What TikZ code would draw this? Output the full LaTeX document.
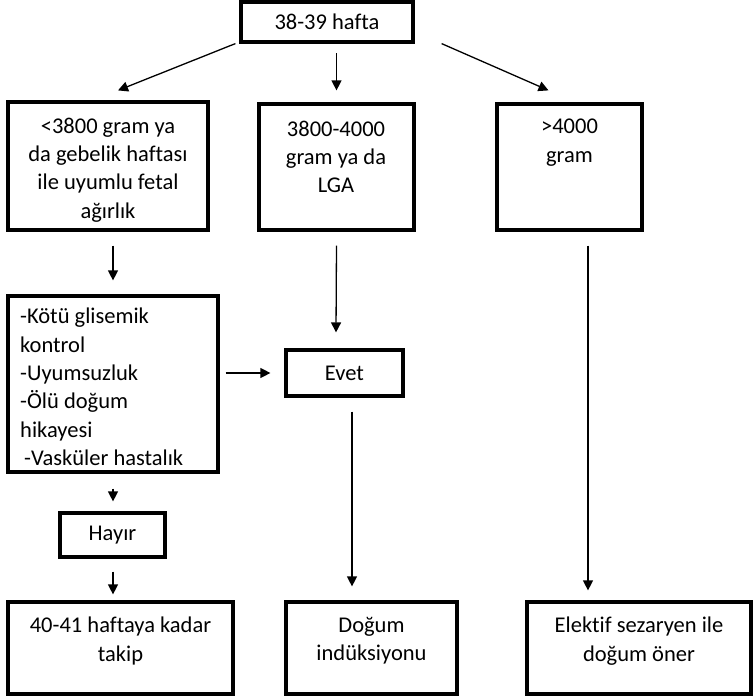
\documentclass[tikz,border=0pt]{standalone}
\usepackage{fontspec}
\setmainfont[Ligatures=NoCommon]{Carlito}
\usetikzlibrary{arrows.meta,calc}
\begin{document}
\begin{tikzpicture}[x=1pt,y=-1pt,
  box/.style={draw,line width=3.2pt,inner sep=0pt},
  txt/.style={font=\fontsize{22.5}{28.3}\selectfont,align=center,inner sep=0pt},
  arr/.style={-{Triangle[length=10pt,width=10pt]},line width=1.3pt}]
\useasboundingbox (0,0) rectangle (753,700);
% boxes
\node[box,minimum width=172,minimum height=40] (top) at (327,22) {};
\node[box,minimum width=200,minimum height=128] (b1) at (108,166) {};
\node[box,minimum width=155,minimum height=126] (b2) at (336.5,167) {};
\node[box,minimum width=145,minimum height=126] (b3) at (569.5,167) {};
\node[box,minimum width=210,minimum height=176] (crit) at (113,384) {};
\node[box,minimum width=117,minimum height=46] (evet) at (344.5,373) {};
\node[box,minimum width=105,minimum height=44] (hayir) at (112.5,535) {};
\node[box,minimum width=225,minimum height=92] (d1) at (120.5,648) {};
\node[box,minimum width=171,minimum height=92] (d2) at (371.5,648) {};
\node[box,minimum width=224,minimum height=92] (d3) at (639,648) {};
% texts
\node[txt] (ttop) at (top.center) {38-39 hafta};
\node[txt] (tb1) at (108,170) {<3800 gram ya\\da gebelik haftası\\ile uyumlu fetal\\ağırlık};
\node[txt] (tb2) at (336,157) {3800-4000\\gram ya da\\LGA};
\node[txt] (tb3) at (569.5,142.5) {>4000\\gram};
\node[txt,align=left,anchor=west] (tcrit) at (20,387) {-Kötü glisemik\\kontrol\\-Uyumsuzluk\\-Ölü doğum\\hikayesi\\\hspace*{4pt}-Vasküler hastalık};
\node[txt] (tevet) at (evet.center) {Evet};
\node[txt] (thayir) at (hayir.center) {Hayır};
\node[txt] (td1) at (120.5,641) {40-41 haftaya kadar\\takip};
\node[txt] (td2) at (371.5,641) {Doğum\\indüksiyonu};
\node[txt] (td3) at (639,641) {Elektif sezaryen ile\\doğum öner};
% arrows
\draw[arr] ([xshift=-4pt]top.south west) -- ([xshift=10pt,yshift=10pt]b1.north);
\draw[arr] ([yshift=49pt]b2.north) -- ([yshift=12pt]b2.north);
\draw[arr] ([xshift=27pt]top.south east) -- ([xshift=-21pt,yshift=12pt]b3.north);
\draw[arr] ([xshift=5pt,yshift=-14pt]b1.south) -- ([yshift=14pt]crit.north);
\draw[arr] ([yshift=-14pt]b2.south) -- ([xshift=-8.5pt,yshift=16pt]evet.north);
\draw[arr] ([xshift=6pt]crit.east |- evet.west) -- ([xshift=-14pt]evet.west);
\draw[arr] ([xshift=7.5pt,yshift=-14pt]evet.south) -- ([xshift=-19.5pt,yshift=14pt]d2.north);
\draw[arr] ([xshift=18.5pt,yshift=-14pt]b3.south) -- ([xshift=-51pt,yshift=10pt]d3.north);
\draw[arr] ([yshift=-15pt]crit.south) -- ([xshift=0.5pt,yshift=10pt]hayir.north);
\draw[arr] ([xshift=0.5pt,yshift=-13pt]hayir.south) -- ([xshift=-7.5pt,yshift=6pt]d1.north);
\end{tikzpicture}
\end{document}
